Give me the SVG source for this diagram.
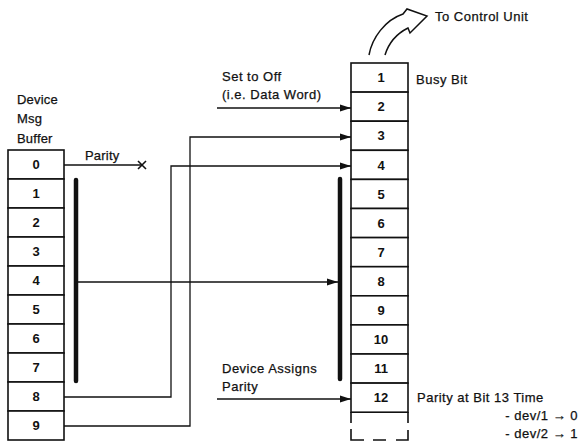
<svg xmlns="http://www.w3.org/2000/svg" width="579" height="442" viewBox="0 0 579 442">
<style>
.cell{fill:#fff;stroke:#111;stroke-width:1.6}
.num{font-family:"Liberation Sans",Arial,sans-serif;font-size:13px;font-weight:bold;fill:#111;text-anchor:middle}
.lbl{font-family:"Liberation Sans",Arial,sans-serif;font-size:13px;fill:#111;stroke:#111;stroke-width:0.25;letter-spacing:0.5px}
.ln{fill:none;stroke:#111;stroke-width:1.3}
.bar{fill:none;stroke:#111;stroke-width:4.5;stroke-linecap:round}
</style>
<defs>
<marker id="ah" viewBox="0 0 11 8" refX="11" refY="4" markerWidth="11" markerHeight="8" markerUnits="userSpaceOnUse" orient="auto">
<path d="M0,0.5 L11,4 L0,7.5 Z" fill="#111"/>
</marker>
</defs>

<g id="buffer-label">
<text class="lbl" x="17" y="104" style="letter-spacing:0.2px">Device</text>
<text class="lbl" x="17" y="123" style="letter-spacing:0.2px">Msg</text>
<text class="lbl" x="17" y="143" style="letter-spacing:0.2px">Buffer</text>
</g>

<g id="device-msg-buffer">
<rect class="cell" x="8" y="150" width="56" height="29"/>
<rect class="cell" x="8" y="179" width="56" height="29"/>
<rect class="cell" x="8" y="208" width="56" height="29"/>
<rect class="cell" x="8" y="237" width="56" height="29"/>
<rect class="cell" x="8" y="266" width="56" height="29"/>
<rect class="cell" x="8" y="295" width="56" height="29"/>
<rect class="cell" x="8" y="324" width="56" height="29"/>
<rect class="cell" x="8" y="353" width="56" height="29"/>
<rect class="cell" x="8" y="382" width="56" height="29"/>
<rect class="cell" x="8" y="411" width="56" height="29"/>
<text class="num" x="36" y="169">0</text>
<text class="num" x="36" y="198">1</text>
<text class="num" x="36" y="227">2</text>
<text class="num" x="36" y="256">3</text>
<text class="num" x="36" y="285">4</text>
<text class="num" x="36" y="314">5</text>
<text class="num" x="36" y="343">6</text>
<text class="num" x="36" y="372">7</text>
<text class="num" x="36" y="401">8</text>
<text class="num" x="36" y="430">9</text>
</g>

<g id="register">
<rect class="cell" x="351" y="63" width="57" height="29.1"/>
<rect class="cell" x="351" y="92.1" width="57" height="29.1"/>
<rect class="cell" x="351" y="121.2" width="57" height="29.1"/>
<rect class="cell" x="351" y="150.3" width="57" height="29.1"/>
<rect class="cell" x="351" y="179.4" width="57" height="29.1"/>
<rect class="cell" x="351" y="208.5" width="57" height="29.1"/>
<rect class="cell" x="351" y="237.6" width="57" height="29.1"/>
<rect class="cell" x="351" y="266.7" width="57" height="29.1"/>
<rect class="cell" x="351" y="295.8" width="57" height="29.1"/>
<rect class="cell" x="351" y="324.9" width="57" height="29.1"/>
<rect class="cell" x="351" y="354" width="57" height="29.1"/>
<rect class="cell" x="351" y="383.1" width="57" height="29.1"/>
<path class="ln" style="stroke-width:1.6" d="M351,412 V423 M408,412 V423"/>
<path class="ln" style="stroke-width:1.6" d="M351,429 V440 H364 M373,440 H386 M396,440 H408 V430"/>
<text class="num" x="381" y="82">1</text>
<text class="num" x="381" y="111">2</text>
<text class="num" x="381" y="140">3</text>
<text class="num" x="381" y="169.5">4</text>
<text class="num" x="381" y="198.5">5</text>
<text class="num" x="381" y="227.5">6</text>
<text class="num" x="381" y="256.5">7</text>
<text class="num" x="381" y="285.5">8</text>
<text class="num" x="381" y="315">9</text>
<text class="num" x="381" y="344">10</text>
<text class="num" x="381" y="373">11</text>
<text class="num" x="381" y="402">12</text>
</g>

<g id="to-control-unit">
<path class="ln" style="stroke-width:1.5;stroke-linejoin:miter" d="M369,55 C372,38 385,20 403,14 L407,9 L427,16 L410,33 L408,28 C398,33 389,42 385,55"/>
<text class="lbl" x="435" y="21">To Control Unit</text>
</g>

<g id="labels">
<text class="lbl" x="416" y="84">Busy Bit</text>
<text class="lbl" x="222" y="81">Set to Off</text>
<text class="lbl" x="222" y="99">(i.e. Data Word)</text>
<text class="lbl" x="85" y="160" style="letter-spacing:0.2px">Parity</text>
<text class="lbl" x="222" y="373">Device Assigns</text>
<text class="lbl" x="222" y="391">Parity</text>
<text class="lbl" x="417" y="402">Parity at Bit 13 Time</text>
<text class="lbl" x="578" y="420" text-anchor="end">- dev/1 → 0</text>
<text class="lbl" x="578" y="438" text-anchor="end">- dev/2 → 1</text>
</g>

<g id="connectors">
<path class="bar" d="M76,180 V381"/>
<path class="bar" d="M340,179 V379"/>
<path class="ln" d="M64,165 H142"/>
<path class="ln" style="stroke-width:1.6" d="M138,161 L146,169 M146,161 L138,169"/>
<path class="ln" d="M64,397 H171 V166 H351" marker-end="url(#ah)"/>
<path class="ln" d="M64,426 H190 V137 H351" marker-end="url(#ah)"/>
<path class="ln" d="M217,108 H351" marker-end="url(#ah)"/>
<path class="ln" d="M78,282 H338" marker-end="url(#ah)"/>
<path class="ln" d="M217,399 H351" marker-end="url(#ah)"/>
</g>
</svg>
